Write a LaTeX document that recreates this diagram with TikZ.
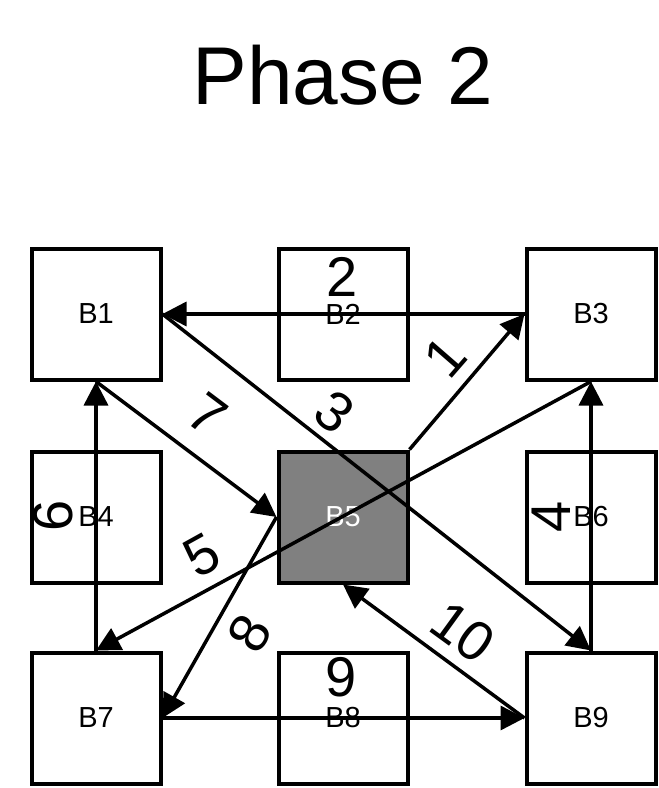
\documentclass[tikz,border=0pt]{standalone}
\usepackage{fontspec}
\setmainfont{Liberation Sans}
\usetikzlibrary{arrows.meta}
\definecolor{midgray}{HTML}{808080}
\begin{document}
\begin{tikzpicture}[x=1pt,y=-1pt,
  box/.style={draw, line width=4pt, minimum width=129pt, minimum height=131pt, inner sep=0pt, font=\fontsize{29}{29}\selectfont},
  conn/.style={line width=3.5pt, -{Triangle[length=24pt,width=24pt]}},
  lab/.style={inner sep=0pt, font=\fontsize{56}{56}\selectfont}]
\useasboundingbox (0,0) rectangle (659,788);
\node[font=\fontsize{82}{82}\selectfont, inner sep=0pt] (title) at (343,75) {Phase 2};
\node[box] (B1) at (96,314) {B1};
\node[box] (B2) at (343,314) {B2};
\node[box] (B3) at (591,314) {B3};
\node[box] (B4) at (96,517) {B4};
\node[box, fill=midgray, text=white] (B5) at (343,517) {B5};
\node[box] (B6) at (591,517) {B6};
\node[box] (B7) at (96,718) {B7};
\node[box] (B8) at (343,718) {B8};
\node[box] (B9) at (591,718) {B9};
\draw[conn] (B5.north east) -- (B3.west);
\draw[conn] (B3.west) -- (B1.east);
\draw[conn] (B1.east) -- (B9.north);
\draw[conn] (B9.north) -- (B3.south);
\draw[conn] (B3.south) -- (B7.north);
\draw[conn] (B7.north) -- (B1.south);
\draw[conn] (B1.south) -- (B5.west);
\draw[conn] (B5.west) -- (B7.east);
\draw[conn] (B7.east) -- (B9.west);
\draw[conn] (B9.west) -- (B5.south);
\node[lab, rotate=49] (l1) at (445,357) {1};
\node[lab] (l2) at (342,277) {2};
\node[lab, rotate=-38] (l3) at (335,412) {3};
\node[lab, rotate=90] (l4) at (551,517) {4};
\node[lab, rotate=29] (l5) at (202,555) {5};
\node[lab, rotate=90] (l6) at (53,516) {6};
\node[lab, rotate=-37] (l7) at (208,414) {7};
\node[lab, rotate=60] (l8) at (250,633) {8};
\node[lab] (l9) at (341,677) {9};
\node[lab, rotate=-36] (l10) at (463,632) {10};
\end{tikzpicture}
\end{document}
